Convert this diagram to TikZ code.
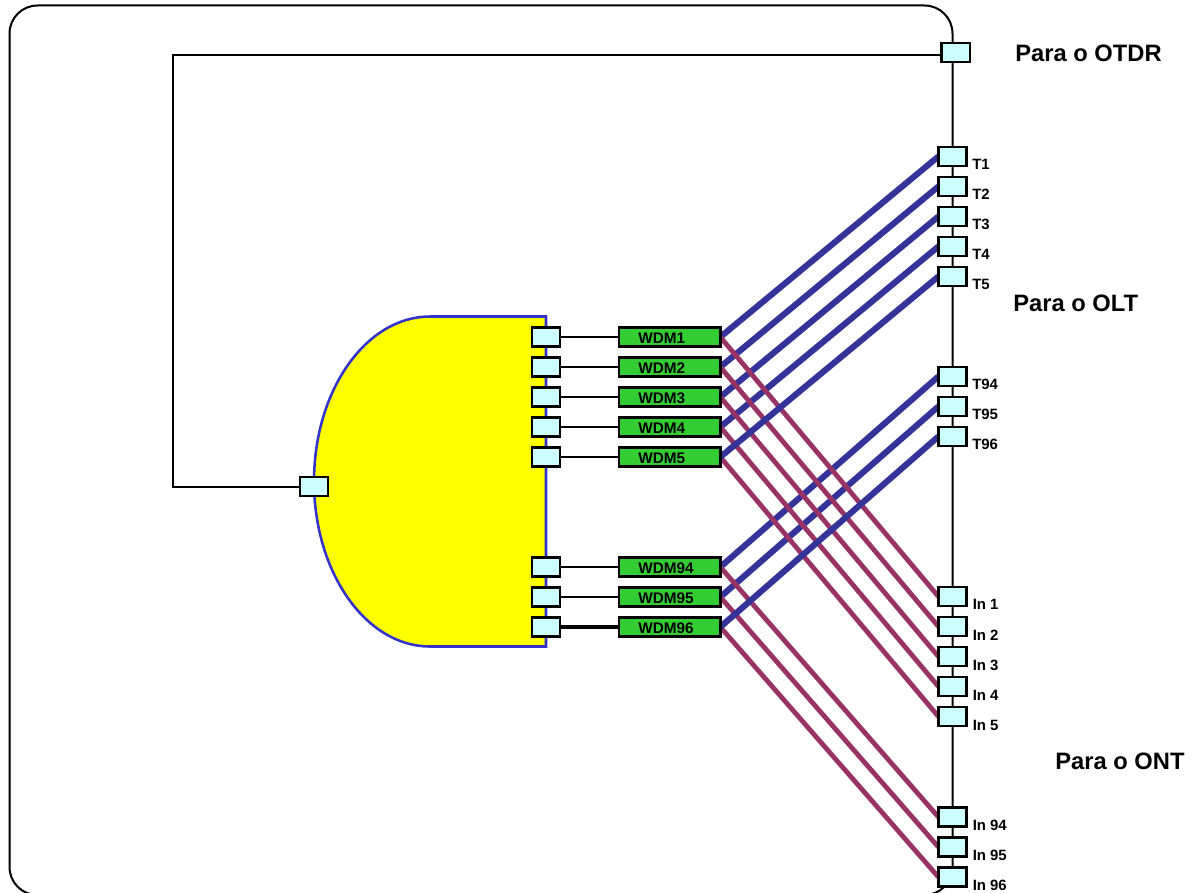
\documentclass[tikz,border=0pt]{standalone}
\usepackage{fontspec}
\setmainfont{Liberation Sans}
\definecolor{portfill}{HTML}{CCFFFF}
\definecolor{wdmfill}{HTML}{33CC33}
\definecolor{fiberblue}{HTML}{333399}
\definecolor{fiberred}{HTML}{993366}
\definecolor{edgeblue}{HTML}{3333CC}
\definecolor{bodyfill}{HTML}{FFFF00}
\tikzset{
  px/.style={x=0.75pt,y=-0.75pt},
  port/.style={draw=black,line width=1.8pt,fill=portfill,minimum width=21.2pt,minimum height=14.2pt,inner sep=0pt,outer sep=0pt},
  wdm/.style={draw=black,line width=1.8pt,fill=wdmfill,minimum width=76.2pt,minimum height=14.2pt,inner sep=0pt,outer sep=0pt},
  wire/.style={draw=black,line width=1.5pt},
  blue fiber/.style={draw=fiberblue,line width=4.6pt},
  red fiber/.style={draw=fiberred,line width=3.6pt},
  smalllabel/.style={anchor=base west,inner sep=0pt,font=\fontsize{11.2}{13}\selectfont\bfseries},
  wdmlabel/.style={anchor=base west,inner sep=0pt,font=\fontsize{11.5}{13}\selectfont\bfseries},
  biglabel/.style={anchor=base west,inner sep=0pt,font=\fontsize{17.8}{20}\selectfont\bfseries}
}
\begin{document}
\begin{tikzpicture}[px]
\clip (0,0) rectangle (1195,892);
\fill[white] (0,0) rectangle (1195,892);
% outer frame
\draw[wire,rounded corners=21pt] (9.5,5.5) rectangle (952.5,895);
% splitter body
\draw[draw=edgeblue,line width=1.9pt,fill=bodyfill] (546,316.5) -- (430,316.5)
  .. controls (366,316.5) and (314,390.4) .. (314,481.5)
  .. controls (314,572.6) and (366,646.5) .. (430,646.5) -- (546,646.5) -- cycle;
% ports on the right
\node[port] (otdr) at (955.7,52.5) {};
% splitter ports and WDMs
\foreach \n/\y in {1/337,2/367,3/397,4/427,5/457,94/567,95/597,96/627}{
  \node[port] (s\n) at (546,\y) {};
  \node[wdm] (w\n) at (669.5,\y) {};
}
\node[port] (pin) at (314,486.5) {};
\foreach \n/\y in {1/156.5,2/186.5,3/216.5,4/246.5,5/276.5,94/376.5,95/406.5,96/436.5}
  \node[port] (t\n) at (952.5,\y) {};
\foreach \n/\y in {1/596.5,2/626.5,3/656.5,4/686.5,5/716.5,94/817,95/847,96/877}
  \node[port] (in\n) at (952.5,\y) {};
% connectors
\foreach \n in {1,2,3,4,5,94,95}
  \draw[wire] (s\n) -- (w\n);
\draw[wire,line width=2.4pt] (s96) -- (w96);
\coordinate (cornerlow) at (173,486.5);
\coordinate (cornerhigh) at (173,55);
\coordinate (otdrin) at (941,55);
\draw[wire] (pin.west) -- (cornerlow) -- (cornerhigh) -- (otdrin);
% fibres
\foreach \n in {1,2,3,4,94,95}
  \draw[blue fiber] (w\n.east) -- (t\n.west);
\foreach \n in {1,2,3,4,5,94,95,96}
  \draw[red fiber] (w\n.east) -- (in\n.west);
\foreach \n in {5,96}
  \draw[blue fiber] (w\n.east) -- (t\n.west);
% redraw boxes above the fibre ends
\foreach \n/\y in {1/156.5,2/186.5,3/216.5,4/246.5,5/276.5,94/376.5,95/406.5,96/436.5}
  \node[port] at (952.5,\y) {};
\foreach \n/\y in {1/596.5,2/626.5,3/656.5,4/686.5,5/716.5,94/817,95/847,96/877}
  \node[port] at (952.5,\y) {};
\foreach \n/\y in {1/337,2/367,3/397,4/427,5/457,94/567,95/597,96/627}
  \node[wdm] at (669.5,\y) {};
% labels
\foreach \n/\y in {1/343.5,2/373.5,3/403.5,4/433.5,5/463.5,94/573.5,95/603.5,96/633.5}
  \node[wdmlabel] (lw\n) at (638,\y) {WDM\n};
\foreach \n/\y in {1/169,2/199,3/229,4/259,5/289,94/389,95/419,96/449}
  \node[smalllabel] (lt\n) at (972,\y) {T\n};
\foreach \n/\y in {1/609.5,2/640,3/670,4/700,5/730,94/830.5,95/860.5,96/890.5}
  \node[smalllabel] (li\n) at (972.5,\y) {In \n};
\node[biglabel] (lotdr) at (1015,61.5) {Para o OTDR};
\node[biglabel] (lolt) at (1013,311) {Para o OLT};
\node[biglabel] (lont) at (1055,769) {Para o ONT};
\end{tikzpicture}
\end{document}
